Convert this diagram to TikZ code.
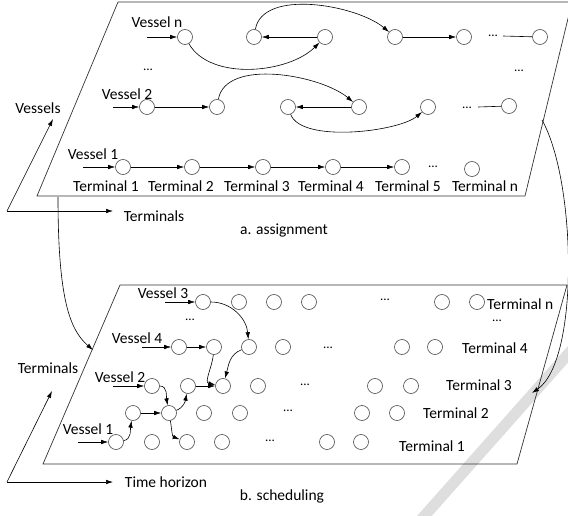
\documentclass[tikz,border=0pt]{standalone}
\usepackage{fontspec}
\setmainfont{Carlito}
\usetikzlibrary{arrows.meta}
\begin{document}
\begin{tikzpicture}[x=1pt,y=-1pt,
  st/.style={circle, draw=black!70, line width=0.6pt, minimum size=15pt, inner sep=0pt},
  arr/.style={-{Latex[length=7pt,width=4.5pt]}, line width=0.6pt},
  ln/.style={line width=0.6pt},
  panel/.style={draw=black!80, line width=0.7pt},
  lbl/.style={font=\fontsize{15.5}{18}\selectfont, inner sep=0pt},
  dts/.style={font=\fontsize{13}{15}\selectfont, inner sep=0pt}]
\useasboundingbox (0,0) rectangle (568,516);
\begin{scope}
\clip (0,0) rectangle (568,516);
% light grey band
\draw[black!13, line width=11pt] (419,522) -- (578,343);
% panels
\draw[panel] (118,2) -- (572,2) -- (525,196) -- (37,196) -- cycle;
\draw[panel] (120,285) -- (567,285) -- (517,464) -- (43,464) -- cycle;
\end{scope}

% ---------- top panel axes ----------
\coordinate (ao) at (7,211);
\coordinate (av) at (53,119);
\coordinate (at) at (113,211);
\draw[arr] (ao) -- (av);
\draw[arr] (ao) -- (at);
\node[lbl] (lv) at (38,108) {Vessels};
\node[lbl] (lt) at (154,216) {Terminals};
\node[lbl] (la) at (284,230) {a. assignment};

% ---------- top panel nodes ----------
\node[st] (n1) at (185,37) {};
\node[st] (n2) at (254,37) {};
\node[st] (n3) at (325,37) {};
\node[st] (n4) at (395,37) {};
\node[st] (n5) at (464,37) {};
\node[st] (n6) at (540,37) {};
\node[st] (a1) at (147,107) {};
\node[st] (a2) at (217,107) {};
\node[st] (a3) at (288,107) {};
\node[st] (a4) at (359,107) {};
\node[st] (a5) at (428,107) {};
\node[st] (a6) at (509,106) {};
\node[st] (b1) at (123,167) {};
\node[st] (b2) at (192,167) {};
\node[st] (b3) at (263,167) {};
\node[st] (b4) at (333,167) {};
\node[st] (b5) at (402,167) {};
\node[st] (b6) at (472,169) {};

\node[lbl] (vn) at (157,22) {Vessel n};
\node[lbl] (v2) at (127,94) {Vessel 2};
\node[lbl] (v1) at (93,154) {Vessel 1};
\node[dts] (dA) at (148,70) {...};
\node[dts] (dB) at (519,71) {...};
\node[dts] (dC) at (493,36) {...};
\node[dts] (dD) at (467,108) {...};
\node[dts] (dE) at (433,167) {...};
\node[lbl] (t1) at (106,186) {Terminal 1};
\node[lbl] (t2) at (181,186) {Terminal 2};
\node[lbl] (t3) at (257,186) {Terminal 3};
\node[lbl] (t4) at (331,186) {Terminal 4};
\node[lbl] (t5) at (408,186) {Terminal 5};
\node[lbl] (tn) at (485,186) {Terminal n};

\coordinate (inN) at (147,37);
\coordinate (in2) at (113,107);
\coordinate (in1) at (83,167);
\coordinate (eN) at (503,36);
\coordinate (e2) at (478,107);
\draw[arr] (inN) -- (n1);
\draw[arr] (n1) to[out=-60,in=-135,looseness=0.85] (n3);
\draw[arr] (n3) -- (n2);
\draw[arr] (n2) to[out=80,in=140,looseness=0.8] (n4);
\draw[arr] (n4) -- (n5);
\draw[ln] (eN) -- (n6);
\draw[arr] (in2) -- (a1);
\draw[arr] (a1) -- (a2);
\draw[arr] (a2) to[out=80,in=140,looseness=0.8] (a4);
\draw[arr] (a4) -- (a3);
\draw[arr] (a3) to[out=-70,in=-140,looseness=0.6] (a5);
\draw[ln] (e2) -- (a6);
\draw[arr] (in1) -- (b1);
\draw[arr] (b1) -- (b2);
\draw[arr] (b2) -- (b3);
\draw[arr] (b3) -- (b4);
\draw[arr] (b4) -- (b5);

% ---------- bottom panel axes ----------
\coordinate (bo) at (7,482);
\coordinate (bv) at (52,391);
\coordinate (bt) at (113,482);
\draw[arr] (bo) -- (bv);
\draw[arr] (bo) -- (bt);
\node[lbl] (lbt) at (48,368) {Terminals};
\node[lbl] (lth) at (166,482) {Time horizon};
\node[lbl] (lbs) at (282,496) {b. scheduling};

% ---------- bottom panel nodes ----------
\foreach \nm/\xx/\yy in {c1/203/302,c2/239/302,c3/274/302,c4/309/302,c5/442/302,c6/477/302,
  d1/179/347,d2/214/347,d3/249/347,d4/283/347,d5/402/347,d6/435/347,
  e1/152/386,e2/188/386,e3/223/386,e4/258/386,e5/375/386,e6/411/386,
  f1/133/413,f2/169/413,f3/204/413,f4/240/413,f5/362/413,f6/397/413,
  g1/116/442,g2/152/442,g3/187/442,g4/222/442,g5/327/442,g6/361/442}
  {\node[st] (\nm) at (\xx,\yy) {};}

\node[lbl] (w3) at (163,293) {Vessel 3};
\node[lbl] (w4) at (137,338) {Vessel 4};
\node[lbl] (w2) at (120,377) {Vessel 2};
\node[lbl] (w1) at (88,429) {Vessel 1};
\node[lbl,anchor=west] (Tn) at (487,304) {Terminal n};
\node[lbl] (T4) at (495,348) {Terminal 4};
\node[lbl] (T3) at (479,385) {Terminal 3};
\node[lbl] (T2) at (456,413) {Terminal 2};
\node[lbl] (T1) at (432,446) {Terminal 1};
\node[dts] (q1) at (385,300) {...};
\node[dts] (q2) at (190,320) {...};
\node[dts] (q3) at (497,321) {...};
\node[dts] (q4) at (328,348) {...};
\node[dts] (q5) at (305,385) {...};
\node[dts] (q6) at (288,411) {...};
\node[dts] (q7) at (270,441) {...};

\coordinate (i3) at (165,302);
\coordinate (i4) at (142,347);
\coordinate (i2) at (113,386);
\coordinate (i1) at (78,442);
\draw[arr] (i3) -- (c1);
\draw[arr] (i4) -- (d1);
\draw[arr] (i2) -- (e1);
\draw[arr] (i1) -- (g1);
\draw[arr] (d1) -- (d2);
\draw[arr] (e2) -- (e3);
\draw[arr] (f1) -- (f2);
\draw[arr] (c1) to[out=0,in=95] (d3);
\draw[arr] (d3) to[out=-160,in=75] (e3);
\draw[arr] (d2) to[out=-95,in=170] (e3);
\draw[arr] (e1) to[out=0,in=100] (f2);
\draw[arr] (f2) to[out=20,in=-100] (e2);
\draw[arr] (f2) to[out=-80,in=160] (g3);
\draw[arr] (g1) to[out=10,in=-100] (f1);

% ---------- links between panels ----------
\coordinate (lk1) at (58,197);
\coordinate (lk2) at (93,350);
\coordinate (rk1) at (542,120);
\coordinate (rk2) at (532,393);
\draw[arr] (lk1) .. controls (58,300) and (70,330) .. (lk2);
\draw[arr] (rk1) .. controls (576,180) and (580,360) .. (rk2);
\end{tikzpicture}
\end{document}
